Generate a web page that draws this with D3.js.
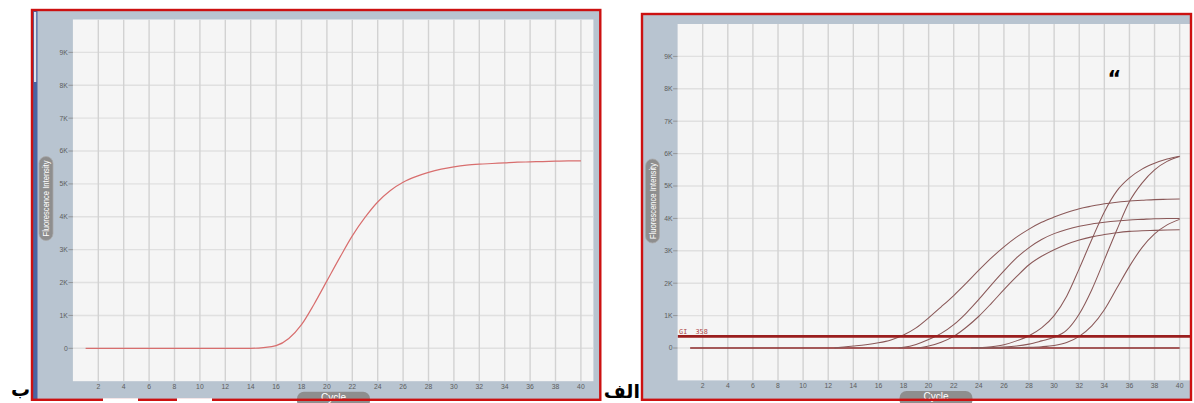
<!DOCTYPE html>
<html>
<head>
<meta charset="utf-8">
<script src="https://cdn.jsdelivr.net/npm/d3@7"></script>
<style>
  html, body { margin: 0; padding: 0; background: #ffffff; }
  svg { display: block; }
</style>
</head>
<body>
<svg id="fig" width="1194" height="403"></svg>
<script>
// ---- data -------------------------------------------------------------
const cycles = [1,2,3,4,5,6,7,8,9,10,11,12,13,14,15,16,17,18,19,20,
                21,22,23,24,25,26,27,28,29,30,31,32,33,34,35,36,37,38,39,40];

const xTickValues = [2,4,6,8,10,12,14,16,18,20,22,24,26,28,30,32,34,36,38,40];
const yTickValues = [0,1000,2000,3000,4000,5000,6000,7000,8000,9000];
const yTickLabels = ["0","1K","2K","3K","4K","5K","6K","7K","8K","9K"];

// single amplification curve (panel ب), fluorescence per cycle
const singleRun = [0,0,0,0,0,0,0,0,0,0,0,0,0,0,20,80,300,720,1350,2050,
                   2750,3420,3980,4450,4800,5050,5220,5350,5450,5520,
                   5570,5600,5620,5640,5660,5670,5680,5690,5700,5700];

// six amplification curves (panel الف); null = not yet plotted
const runA = [null,null,null,null,null,null,null,null,null,null,null,null,25,60,100,160,250,400,620,930,
              1270,1620,2000,2400,2780,3120,3420,3670,3880,4040,4180,4300,4380,4450,4500,4540,4560,4580,4590,4600];
const runB = [null,null,null,null,null,null,null,null,null,null,null,null,null,null,null,null,null,20,110,260,
              450,720,1080,1500,1950,2380,2780,3100,3350,3530,3660,3760,3830,3880,3920,3950,3970,3990,4000,4000];
const runC = [null,null,null,null,null,null,null,null,null,null,null,null,null,null,null,null,null,null,null,60,
              180,360,640,980,1380,1800,2200,2570,2830,3030,3200,3330,3430,3500,3560,3600,3620,3630,3640,3650];
const runD = [null,null,null,null,null,null,null,null,null,null,null,null,null,null,null,null,null,null,null,null,
              null,null,null,10,40,100,220,380,620,1000,1600,2450,3350,4200,4850,5250,5520,5700,5830,5920];
const runE = [null,null,null,null,null,null,null,null,null,null,null,null,null,null,null,null,null,null,null,null,
              null,null,null,5,15,30,60,120,220,330,550,1050,1800,2720,3650,4520,5090,5500,5760,5910];
const runF = [null,null,null,null,null,null,null,null,null,null,null,null,null,null,null,null,null,null,null,null,
              null,null,null,0,0,0,10,20,40,80,170,360,680,1180,1850,2520,3100,3520,3800,3970];
const runOnsets = [12.5, 17.6, 19.1, 23.4, 23.4, 23.4];   // cycle where each trace leaves the baseline
const blankRun = [0,0,0,0,0,0,0,0,0,0,0,0,0,0,0,0,0,0,0,0,
                  0,0,0,0,0,0,0,0,0,0,0,0,0,0,0,0,0,0,0,0];

const thresholdValue = 358;
const thresholdLabel = "GI  358";

// ---- drawing ----------------------------------------------------------
const svg = d3.select("#fig");
const PANEL_BG = "#b8c4d0";
const PLOT_BG = "#f5f5f5";
const FRAME_RED = "#cc1111";
const PILL = "#8e8e8e";

function drawPanel(cfg) {
  const g = svg.append("g");
  const x = d3.scaleLinear().domain([0, 41]).range([cfg.px0, cfg.px1]);
  const y = d3.scaleLinear().domain([-1000, 10000]).range([cfg.py1, cfg.py0]);

  // panel background
  g.append("rect")
    .attr("x", cfg.fx).attr("y", cfg.fy).attr("width", cfg.fw).attr("height", cfg.fh)
    .attr("fill", PANEL_BG);

  if (cfg.sideBar) {
    g.append("rect").attr("x", cfg.fx + 1).attr("y", cfg.fy).attr("width", 4.5).attr("height", cfg.fh)
      .attr("fill", "#4a64a2");
    g.append("rect").attr("x", cfg.fx + 2).attr("y", cfg.fy + 2).attr("width", 2.2).attr("height", 70)
      .attr("fill", "#dfe5ee");
  }

  const clipId = "clip" + cfg.id;
  svg.append("clipPath").attr("id", clipId)
    .append("rect")
    .attr("x", cfg.px0).attr("y", cfg.py0)
    .attr("width", Math.min(cfg.px1, cfg.clipRight) - cfg.px0).attr("height", cfg.py1 - cfg.py0);

  // plot area
  g.append("rect")
    .attr("x", cfg.px0).attr("y", cfg.py0)
    .attr("width", Math.min(cfg.px1, cfg.clipRight) - cfg.px0).attr("height", cfg.py1 - cfg.py0)
    .attr("fill", PLOT_BG);

  const plot = g.append("g").attr("clip-path", `url(#${clipId})`);

  // horizontal grid
  plot.append("g").selectAll("line").data(yTickValues).join("line")
    .attr("x1", cfg.px0).attr("x2", cfg.px1)
    .attr("y1", d => y(d)).attr("y2", d => y(d))
    .attr("stroke", "#e0e0e0").attr("stroke-width", 1.4);

  // vertical grid
  plot.append("g").selectAll("line").data(xTickValues).join("line")
    .attr("x1", d => x(d)).attr("x2", d => x(d))
    .attr("y1", cfg.py0).attr("y2", cfg.py1)
    .attr("stroke", "#d2d2d2").attr("stroke-width", 1.4);

  // y axis labels with small tick marks
  const yAxis = g.append("g");
  yAxis.selectAll("text").data(yTickValues).join("text")
    .attr("x", cfg.px0 - 5).attr("y", d => y(d) + 2.4)
    .attr("text-anchor", "end")
    .attr("font-family", "Liberation Sans, Arial, sans-serif")
    .attr("font-size", 6.8).attr("fill", "#5c5c5c")
    .text((d, i) => yTickLabels[i]);
  yAxis.selectAll("line").data(yTickValues).join("line")
    .attr("x1", cfg.px0 - 4.5).attr("x2", cfg.px0)
    .attr("y1", d => y(d)).attr("y2", d => y(d))
    .attr("stroke", "#8a8a8a").attr("stroke-width", 0.8);

  // x axis labels
  g.append("g").selectAll("text").data(xTickValues).join("text")
    .attr("x", d => x(d)).attr("y", cfg.py1 + 8)
    .attr("text-anchor", "middle")
    .attr("font-family", "Liberation Sans, Arial, sans-serif")
    .attr("font-size", 6.8).attr("fill", "#5c5c5c")
    .text(d => d);

  // y-axis title pill
  const yp = g.append("g").attr("transform", `translate(${cfg.yPillX},${cfg.yPillY}) rotate(-90)`);
  yp.append("rect").attr("x", -42).attr("y", -7).attr("width", 84).attr("height", 14).attr("rx", 7)
    .attr("fill", PILL).attr("stroke", "#a9a9a9").attr("stroke-width", 0.8);
  yp.append("text").attr("x", 0).attr("y", 3)
    .attr("text-anchor", "middle")
    .attr("font-family", "Liberation Sans, Arial, sans-serif")
    .attr("font-size", 8.6).attr("fill", "#ffffff")
    .attr("textLength", 76).attr("lengthAdjust", "spacingAndGlyphs")
    .text("Fluorescence Intensity");

  // x-axis title pill
  const xp = g.append("g");
  xp.append("rect").attr("x", cfg.xPillX - 36.5).attr("y", cfg.py1 + 10.5).attr("width", 73).attr("height", 16).attr("rx", 7)
    .attr("fill", PILL);
  xp.append("text").attr("x", cfg.xPillX).attr("y", cfg.py1 + 19.5)
    .attr("text-anchor", "middle")
    .attr("font-family", "Liberation Sans, Arial, sans-serif")
    .attr("font-size", 10).attr("fill", "#ffffff")
    .text("Cycle");

  return { g, plot, x, y };
}

function tracePoints(values, onset) {
  const pts = [];
  if (onset != null) pts.push([onset, 0]);
  values.forEach((v, i) => { if (v != null) pts.push([cycles[i], v]); });
  return pts;
}

// ---- panel ب (left) ----
const left = drawPanel({
  id: "L", fx: 32, fy: 10, fw: 568, fh: 390,
  px0: 72.9, px1: 593.6, py0: 19.5, py1: 381.2, clipRight: 593.4,
  yPillX: 46, yPillY: 198.5, xPillX: 333.5, sideBar: true
});
const lineL = d3.line().x(d => left.x(d[0])).y(d => left.y(d[1])).curve(d3.curveMonotoneX);
left.plot.append("path")
  .datum(tracePoints(singleRun, null))
  .attr("d", lineL)
  .attr("fill", "none").attr("stroke", "#d86e6e").attr("stroke-width", 1.2);

// ---- panel الف (right) ----
const right = drawPanel({
  id: "R", fx: 642, fy: 14, fw: 549, fh: 386,
  px0: 677.6, px1: 1192.2, py0: 24, py1: 380.4, clipRight: 1190.5,
  yPillX: 652.5, yPillY: 201, xPillX: 936, sideBar: false
});
const lineR = d3.line().x(d => right.x(d[0])).y(d => right.y(d[1])).curve(d3.curveMonotoneX);

// no-template trace along the baseline
right.plot.append("path")
  .datum(tracePoints(blankRun, null))
  .attr("d", lineR)
  .attr("fill", "none").attr("stroke", "#8e2a2a").attr("stroke-width", 1.3);

const runs = [runA, runB, runC, runD, runE, runF];
right.plot.append("g").selectAll("path").data(runs).join("path")
  .attr("d", (d, i) => lineR(tracePoints(d, runOnsets[i])))
  .attr("fill", "none").attr("stroke", "#8a5858").attr("stroke-width", 1.05);

// threshold line
right.plot.append("line")
  .attr("x1", right.x(0)).attr("x2", right.x(41))
  .attr("y1", right.y(thresholdValue)).attr("y2", right.y(thresholdValue))
  .attr("stroke", "#9a1e1e").attr("stroke-width", 2.6);
right.g.append("text")
  .attr("x", right.x(0) + 1.5).attr("y", right.y(thresholdValue) - 2.5)
  .attr("font-family", "DejaVu Sans Mono, monospace")
  .attr("font-size", 6.8).attr("fill", "#b04848")
  .attr("xml:space", "preserve")
  .text(thresholdLabel);

// ---- frames ----
svg.append("rect").attr("x", 32).attr("y", 10).attr("width", 568.3).attr("height", 389.8)
  .attr("fill", "none").attr("stroke", FRAME_RED).attr("stroke-width", 2.4);
svg.append("rect").attr("x", 642).attr("y", 14).attr("width", 549).attr("height", 385.8)
  .attr("fill", "none").attr("stroke", FRAME_RED).attr("stroke-width", 2.4);
// white patches on the lower edge of the left frame
[[103, 138], [177, 212]].forEach(([a, b]) => {
  svg.append("rect").attr("x", a).attr("y", 398.2).attr("width", b - a).attr("height", 3)
    .attr("fill", "#ffffff");
});

// ---- panel letters ----
svg.append("text").attr("x", 640).attr("y", 397.5)
  .attr("text-anchor", "end")
  .attr("font-family", "DejaVu Sans, sans-serif").attr("font-weight", "bold")
  .attr("font-size", 19).attr("fill", "#000000")
  .text("الف");
svg.append("text").attr("x", 30).attr("y", 396)
  .attr("text-anchor", "end")
  .attr("font-family", "DejaVu Sans, sans-serif").attr("font-weight", "bold")
  .attr("font-size", 19).attr("fill", "#000000")
  .text("ب");
svg.append("text").attr("x", 1107.5).attr("y", 86)
  .attr("font-family", "DejaVu Sans, sans-serif").attr("font-weight", "bold")
  .attr("font-size", 21).attr("fill", "#000000")
  .text("“");
</script>
</body>
</html>
